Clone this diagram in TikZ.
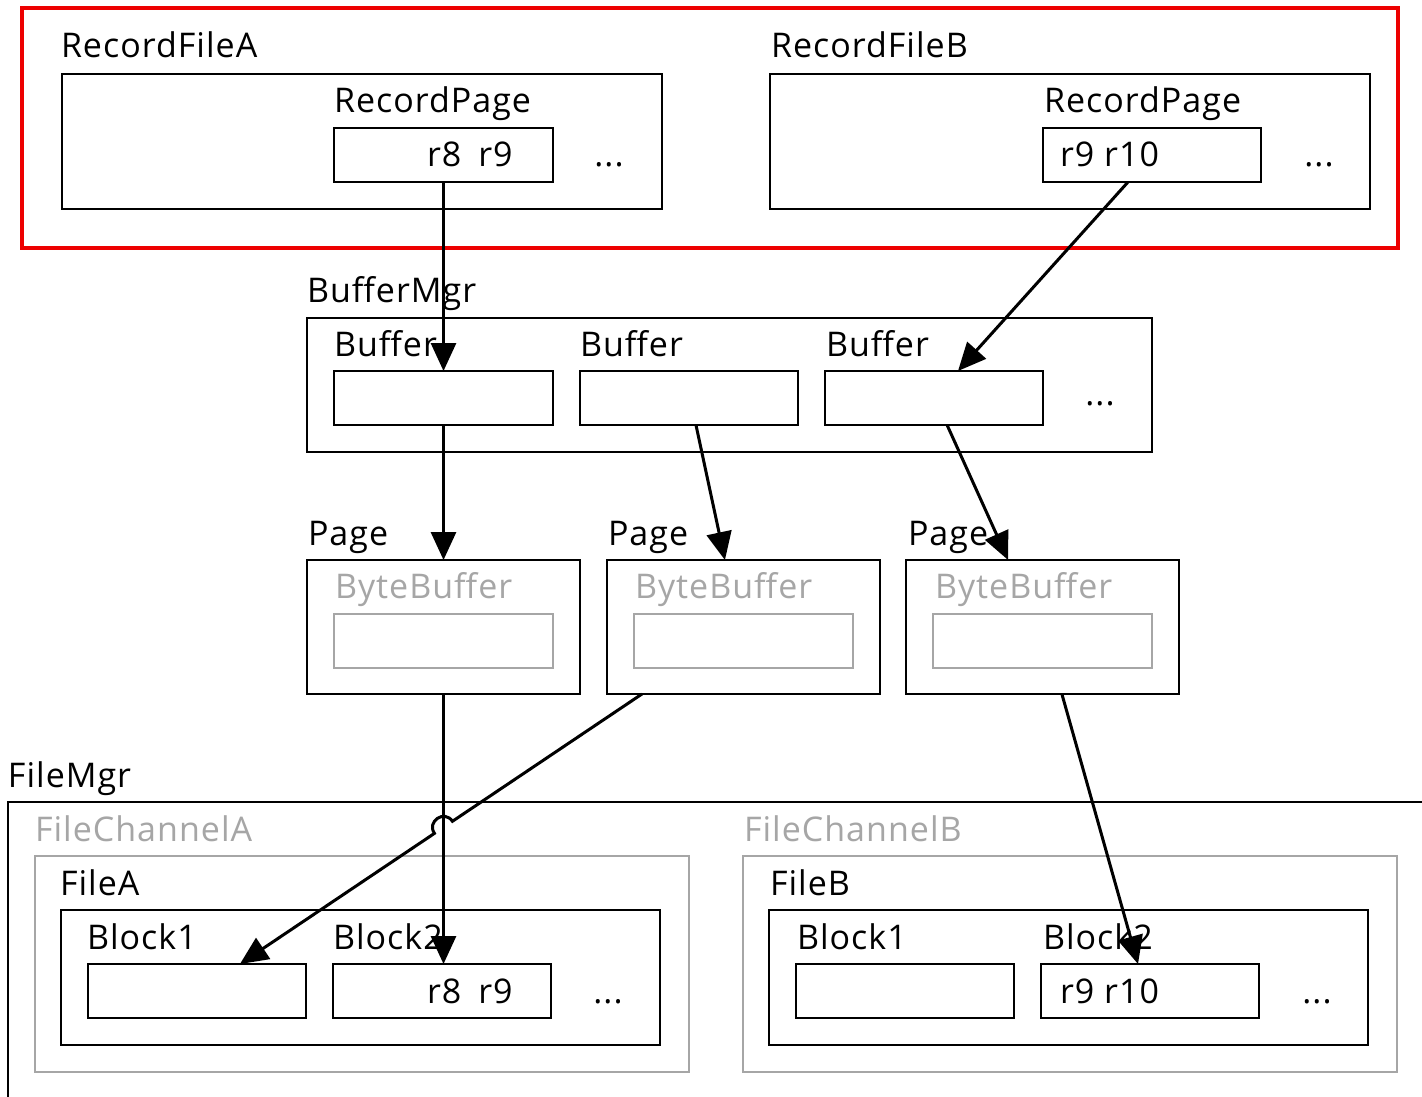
\documentclass[tikz,border=0pt]{standalone}
\usepackage{fontspec}
\setmainfont{Open Sans}[LetterSpace=3.0]
\usetikzlibrary{arrows.meta,calc}
\definecolor{lgray}{RGB}{166,166,166}
\definecolor{rred}{RGB}{237,0,0}
\begin{document}
\begin{tikzpicture}[x=1pt,y=-1pt,
  box/.style={draw=black,line width=2.7pt,inner sep=0pt,outer sep=0pt,fill=none},
  gbox/.style={draw=lgray,line width=2.7pt,inner sep=0pt,outer sep=0pt},
  lbl/.style={anchor=base west,inner sep=0pt,outer sep=0pt,font=\fontsize{34}{40}\selectfont},
  glbl/.style={lbl,text=lgray},
  dots/.style={anchor=base,inner sep=0pt,font=\fontsize{34}{40}\selectfont},
  arr/.style={line width=3pt,-{Triangle[length=28pt,width=25pt]}},
  ]
\useasboundingbox (0,0) rectangle (1422,1096);
\fill[white] (0,0) rectangle (1422,1096);

% ---------- record files ----------
\node[draw=rred,line width=4.5pt,inner sep=0pt,minimum width=1376pt,minimum height=240pt] (rec) at (710,128) {};
\node[box,minimum width=600pt,minimum height=135pt] (rfa) at (362,141.5) {};
\node[box,minimum width=219pt,minimum height=54pt] (rfain) at (443.5,155) {};
\node[box,minimum width=600pt,minimum height=135pt] (rfb) at (1070,141.5) {};
\node[box,minimum width=218pt,minimum height=54pt] (rfbin) at (1152,155) {};
\node[lbl] (lrfa) at (61,57) {RecordFileA};
\node[lbl] (lrfb) at (771,57) {RecordFileB};
\node[lbl] (lrpa) at (334,112) {RecordPage};
\node[lbl] (lrpb) at (1044,112) {RecordPage};
\node[lbl] (trfa) at (427,166) {r8\hspace{17pt}r9};
\node[lbl] (trfb) at (1060,166) {r9 r10};
\node[dots] (da) at (609,166) {...};
\node[dots] (db) at (1319,166) {...};

% ---------- buffer manager ----------
\node[box,minimum width=845pt,minimum height=134pt] (bm) at (729.5,385) {};
\node[lbl] (lbm) at (307,302) {BufferMgr};
\node[box,minimum width=219pt,minimum height=54pt] (buf1) at (443.5,398) {};
\node[box,minimum width=218pt,minimum height=54pt] (buf2) at (689,398) {};
\node[box,minimum width=218pt,minimum height=54pt] (buf3) at (934,398) {};
\node[lbl] (lb1) at (334,356) {Buffer};
\node[lbl] (lb2) at (580,356) {Buffer};
\node[lbl] (lb3) at (826,356) {Buffer};
\node[dots] (dbm) at (1100,405) {...};

% ---------- pages ----------
\node[box,minimum width=273pt,minimum height=134pt] (pg1) at (443.5,627) {};
\node[box,minimum width=273pt,minimum height=134pt] (pg2) at (743.5,627) {};
\node[box,minimum width=273pt,minimum height=134pt] (pg3) at (1042.5,627) {};
\node[gbox,minimum width=219pt,minimum height=54pt] (bb1) at (443.5,641) {};
\node[gbox,minimum width=219pt,minimum height=54pt] (bb2) at (743.5,641) {};
\node[gbox,minimum width=219pt,minimum height=54pt] (bb3) at (1042.5,641) {};
\node[lbl] (lp1) at (308,545) {Page};
\node[lbl] (lp2) at (608,545) {Page};
\node[lbl] (lp3) at (908,545) {Page};
\node[glbl] (lbb1) at (335,598) {ByteBuffer};
\node[glbl] (lbb2) at (635,598) {ByteBuffer};
\node[glbl] (lbb3) at (935,598) {ByteBuffer};

% ---------- file manager ----------
\draw[line width=2.7pt] (1430,802) -- (8,802) -- (8,1104);
\node[lbl] (lfm) at (8,787) {FileMgr};
\node[gbox,minimum width=654pt,minimum height=216pt] (fca) at (362,964) {};
\node[gbox,minimum width=654pt,minimum height=216pt] (fcb) at (1070,964) {};
\node[glbl] (lfca) at (35,841) {FileChannelA};
\node[glbl] (lfcb) at (744,841) {FileChannelB};
\node[box,minimum width=599pt,minimum height=135pt] (fa) at (360.5,977.5) {};
\node[box,minimum width=599pt,minimum height=135pt] (fb) at (1068.5,977.5) {};
\node[lbl] (lfa) at (60,895) {FileA};
\node[lbl] (lfb) at (770,895) {FileB};
\node[box,minimum width=218pt,minimum height=54pt] (ba1) at (197,991) {};
\node[box,minimum width=218pt,minimum height=54pt] (ba2) at (442,991) {};
\node[box,minimum width=218pt,minimum height=54pt] (bb1f) at (905,991) {};
\node[box,minimum width=218pt,minimum height=54pt] (bb2f) at (1150,991) {};
\node[lbl] (lba1) at (87,949) {Block1};
\node[lbl] (lba2) at (333,949) {Block2};
\node[lbl] (lbb1f) at (797,949) {Block1};
\node[lbl] (lbb2f) at (1043,949) {Block2};
\node[lbl] (tba2) at (427,1003) {r8\hspace{17pt}r9};
\node[lbl] (tbb2) at (1060,1003) {r9 r10};
\node[dots] (dfa) at (608,1003) {...};
\node[dots] (dfb) at (1317,1003) {...};

% ---------- connectors ----------
\draw[arr] (rfain.south) -- (buf1.north);
\draw[arr] ($(rfbin.south west)!0.39!(rfbin.south east)$) -- ($(buf3.north west)!0.61!(buf3.north east)$);
\draw[arr] (buf1.south) -- (pg1.north);
\draw[arr] ($(buf2.south west)!0.532!(buf2.south east)$) -- ($(pg2.north west)!0.432!(pg2.north east)$);
\draw[arr] ($(buf3.south west)!0.56!(buf3.south east)$) -- ($(pg3.north west)!0.374!(pg3.north east)$);
\draw[arr] (pg1.south) -- (pg1.south |- ba2.north);
\coordinate (s7) at ($(pg2.south west)!0.128!(pg2.south east)$);
\coordinate (e7) at ($(ba1.north west)!0.697!(ba1.north east)$);
\coordinate (j1) at ($(s7)!0.4714!(e7)$);
\coordinate (j2) at ($(s7)!0.5162!(e7)$);
\draw[arr] (s7) -- (j1) .. controls ($(j1)+(-8,-12)$) and ($(j2)+(-8,-12)$) .. (j2) -- (e7);
\draw[arr] ($(pg3.south west)!0.571!(pg3.south east)$) -- ($(bb2f.north west)!0.445!(bb2f.north east)$);
\end{tikzpicture}
\end{document}
